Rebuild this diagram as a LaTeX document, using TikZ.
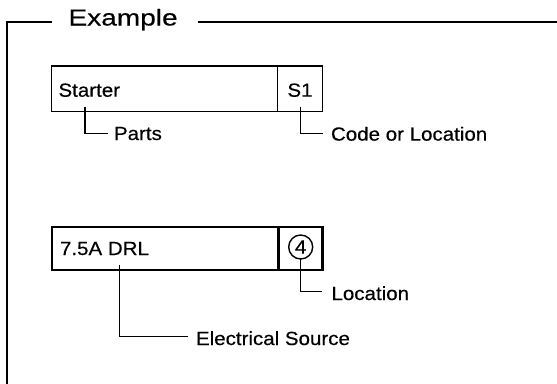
\documentclass[tikz,border=0pt]{standalone}
\usepackage{fontspec}
\setmainfont{Liberation Sans}[FakeStretch=1.08,FakeBold=0.4]
\newfontfamily\exfont{Liberation Sans}[FakeStretch=1.22,FakeBold=0.4]
\usetikzlibrary{calc}
\begin{document}
\begin{tikzpicture}[x=1pt,y=1pt,
  frame/.style={line width=1.6pt},
  lbl/.style={inner sep=0pt, outer sep=0pt, font=\fontsize{19}{21}\selectfont},
  exlbl/.style={inner sep=0pt, outer sep=0pt, font=\exfont\fontsize{23}{26}\selectfont},
  cellthin/.style={draw, line width=1.4pt, inner sep=0pt, outer sep=0pt, anchor=north west},
  cellthick/.style={draw, line width=2.4pt, inner sep=0pt, outer sep=0pt, anchor=north west},
  lead/.style={line width=1.5pt},
  ring/.style={draw, circle, line width=1.4pt, inner sep=0pt, outer sep=0pt, minimum size=24pt, font=\fontsize{19}{21}\selectfont}
]
\useasboundingbox (0,0) rectangle (557,-383);
% frame and title
\node[exlbl, anchor=base west] (ex) at (68.5,-25.5) {Example};
\coordinate (fa) at (52,-22);
\coordinate (fb) at (6.7,-22);
\coordinate (fc) at (6.7,-390);
\coordinate (fd) at (197.7,-22);
\coordinate (fe) at (560,-22);
\draw[frame] (fa) -- (fb) -- (fc);
\draw[frame] (fd) -- (fe);
% box 1
\node[cellthin, minimum width=225.6pt, minimum height=45.7pt] (c1a) at (51.7,-66) {};
\node[cellthin, minimum width=45.4pt, minimum height=45.7pt] (c1b) at (277.3,-66) {};
\node[lbl, anchor=base west] (t1) at (58.5,-96.7) {Starter};
\node[lbl, anchor=base] (s1) at (300,-96.7) {S1};
\node[lbl, anchor=base west] (parts) at (114,-140) {Parts};
\node[lbl, anchor=base west] (code) at (331,-140.6) {Code or Location};
\draw[lead] ([xshift=26.5pt,yshift=-10pt]t1.base west) |- ([xshift=-6pt,yshift=6.7pt]parts.base west);
\draw[lead] ([xshift=0.7pt,yshift=-10pt]s1.base) |- ([xshift=-7.7pt,yshift=7.3pt]code.base west);
% box 2
\node[cellthick, minimum width=226.6pt, minimum height=43.3pt] (c2a) at (51.7,-226.7) {};
\node[cellthick, minimum width=44.2pt, minimum height=43.3pt] (c2b) at (278.3,-226.7) {};
\node[lbl, anchor=base west] (t2) at (60,-255) {7.5A DRL};
\node[ring] (circ) at (300.7,-247) {4};
\node[lbl, anchor=base west] (loc) at (331.5,-300) {Location};
\node[lbl, anchor=base west] (elec) at (196,-345) {Electrical Source};
\draw[lead] ([xshift=59.3pt,yshift=-10pt]t2.base west) |- ([xshift=-7.7pt,yshift=8.3pt]elec.base west);
\draw[lead] (circ.south) |- ([xshift=-9.8pt,yshift=8.3pt]loc.base west);
\end{tikzpicture}
\end{document}
